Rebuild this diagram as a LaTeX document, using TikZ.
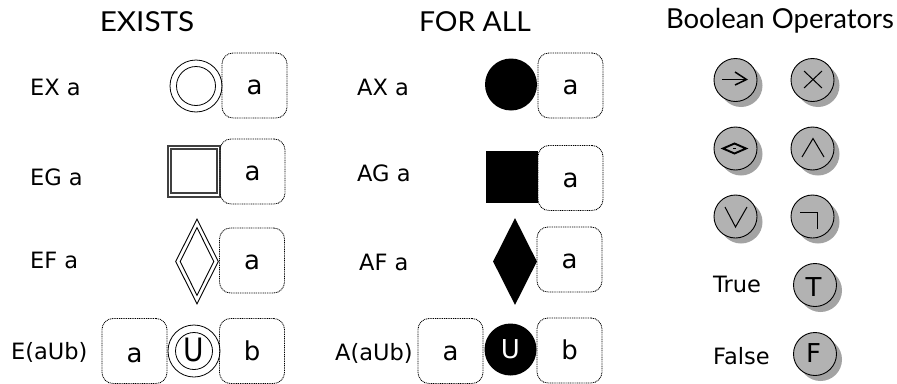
\documentclass[tikz,border=0pt]{standalone}
\usepackage{fontspec}
\setmainfont{DejaVu Sans}
\newfontfamily\titlefont{Lato}
\usetikzlibrary{shapes.geometric,arrows.meta}
\definecolor{opgray}{HTML}{B2B2B2}
\definecolor{shadowgray}{HTML}{A3A3A3}
\tikzset{
  lbl/.style={inner sep=0pt,anchor=west,font=\fontsize{22.5}{26}\selectfont},
  ttl/.style={inner sep=0pt,font=\titlefont\fontsize{27.5}{30}\selectfont},
  arg/.style={draw=black,line width=.85pt,dash pattern=on 1pt off .8pt,rounded corners=11pt,
    minimum width=65pt,minimum height=65pt,inner sep=0pt,text height=18.5pt,text depth=0pt,font=\fontsize{26}{30}\selectfont},
  argl/.style={arg,text height=22pt},
  circ/.style={circle,draw,inner sep=0pt,line width=.8pt},
  sq/.style={rectangle,draw=black!75,inner sep=0pt,line width=1.1pt},
  dia/.style={draw,inner sep=0pt,line width=.9pt},
  fullc/.style={circle,fill=black,inner sep=0pt,minimum size=52pt,text=white,font=\fontsize{26}{30}\selectfont},
  opc/.style={circle,draw,fill=opgray,line width=.9pt,minimum size=43pt,inner sep=0pt},
  optxt/.style={inner sep=0pt,font=\fontsize{26}{30}\selectfont},
  shd/.style={circle,fill=shadowgray,minimum size=43pt,inner sep=0pt},
  sym/.style={line width=1pt,line join=miter},
}
\newcommand{\dblcirc}[5]{% name x y router rinner
  \node[circ,minimum size=#4*2pt] (#1o) at (#2,#3) {};
  \node[circ,minimum size=#5*2pt] (#1i) at (#2,#3) {};}
\newcommand{\opnode}[3]{% name x y
  \node[shd] (#1s) at (#2+5.5,#3+5.5) {};
  \node[opc] (#1) at (#2,#3) {};}
\begin{document}
\begin{tikzpicture}[x=1pt,y=-1pt]
\useasboundingbox (0,0) rectangle (897,383);
% titles
\node[ttl,xscale=1.08] (t1) at (147,22) {EXISTS};
\node[ttl,xscale=1.03] (t2) at (475,22) {FOR ALL};
\node[ttl] (t3) at (780,21) {Boolean Operators};
% EXISTS
\node[lbl] (l1) at (30,87) {EX a};
\node[lbl] (l2) at (30,177) {EG a};
\node[lbl] (l3) at (30,260) {EF a};
\node[lbl] (l4) at (11,352) {E(aUb)};
\dblcirc{c1}{196}{86}{26}{19.5}
\node[arg] (b1) at (254.5,85.5) {a};
\node[sq,minimum width=52pt,minimum height=51pt] (s1o) at (194,171.5) {};
\node[sq,minimum width=46pt,minimum height=44pt] (s1i) at (194,171) {};
\node[arg] (b2) at (252.5,171.5) {a};
\node[dia,diamond,minimum width=43pt,minimum height=85pt,shape aspect=.5] (d1o) at (197,261.5) {};
\node[dia,diamond,minimum width=34pt,minimum height=68pt,shape aspect=.5] (d1i) at (197,261.5) {};
\node[arg] (b3) at (252,260.5) {a};
\node[argl] (b4) at (134.5,351) {a};
\dblcirc{c2}{194}{351}{26}{18.5}
\node[inner sep=0pt,font=\fontsize{28}{30}\selectfont,yscale=1.15] (u1) at (193.5,350) {U};
\node[arg] (b5) at (252,351) {b};
% FOR ALL
\node[lbl] (l5) at (357,87) {AX a};
\node[lbl] (l6) at (357,173) {AG a};
\node[lbl] (l7) at (359,262) {AF a};
\node[lbl] (l8) at (335,353) {A(aUb)};
\node[fullc] (c3) at (511,84.5) {};
\node[arg] (b6) at (570.5,85.5) {a};
\node[fill=black,inner sep=0pt,minimum width=52pt,minimum height=52pt] (s2) at (512,177) {};
\node[arg] (b7) at (570.5,178) {a};
\node[diamond,fill=black,inner sep=0pt,minimum width=44pt,minimum height=87pt,shape aspect=.5] (d2) at (515,261.5) {};
\node[arg] (b8) at (569.5,259.5) {a};
\node[arg] (b9) at (450.5,351) {a};
\node[fullc] (c4) at (510.5,349.5) {U};
\node[arg] (b10) at (569.5,350.5) {b};
% Boolean operators
\opnode{o1}{735.5}{80}
\opnode{o2}{812.5}{80}
\opnode{o3}{735.5}{148.5}
\opnode{o4}{812.5}{148.5}
\opnode{o5}{735.5}{216.5}
\opnode{o6}{812.5}{216.5}
\opnode{o7}{815}{285}
\opnode{o8}{815}{354}
\node[optxt] (tt) at (813.5,287) {T};
\node[optxt] (tf) at (813.5,353) {F};
\node[lbl] (l9) at (713,284) {True};
\node[lbl] (l10) at (713,356) {False};
% operator glyphs
\draw[sym] (722,79.5) -- (746,79.5);
\draw[sym,line width=1.5pt] (735,72) -- (746.5,79.5) -- (735,85);
\draw[sym] (804,71) -- (822,88) (822,71) -- (804,88);
\draw[sym,line width=1.9pt] (723,148.5) -- (734.5,143.5) -- (746,148.5) -- (734.5,153.5) -- cycle;
\draw[sym,line width=.6pt] (733,148.5) -- (736,148.5);
\draw[sym] (802,157) -- (813,138.5) -- (824,157);
\draw[sym] (725,207) -- (735.5,227) -- (747,207);
\draw[sym] (800,212) -- (817,212) -- (817,229);
\end{tikzpicture}
\end{document}
